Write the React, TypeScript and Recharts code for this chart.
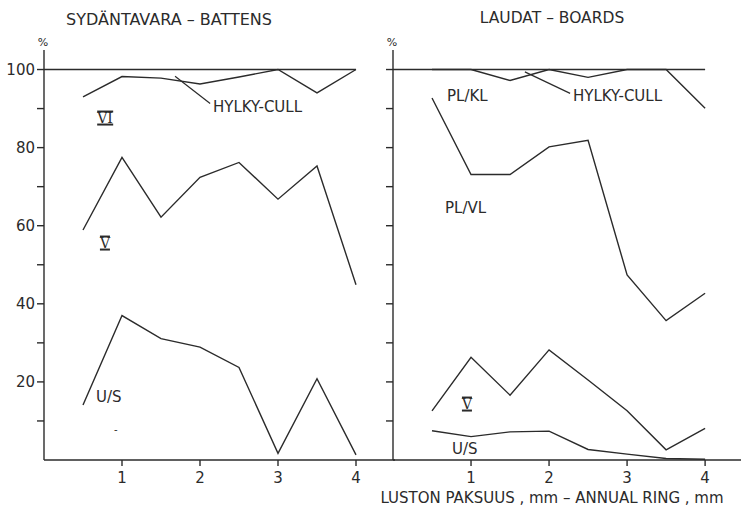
import React from 'react';
import { LineChart, Line, XAxis, YAxis, ReferenceLine } from 'recharts';

// ring thickness classes (mm)
const rings = [0.5, 1, 1.5, 2, 2.5, 3, 3.5, 4];

// Sydäntavara – battens (%)
const battensVI = [93, 98.2, 97.8, 96.3, 98.1, 100, 94, 100];
const battensV = [58.9, 77.5, 62.2, 72.4, 76.2, 66.8, 75.3, 44.9];
const battensUS = [14.1, 37.0, 31.1, 28.9, 23.7, 1.7, 20.8, 1.3];

// Laudat – boards (%)
const boardsCull = [100, 100, 97.2, 100, 98.0, 100, 100, 90.1];
const boardsPLVL = [92.7, 73.1, 73.1, 80.2, 81.9, 47.4, 35.7, 42.7];
const boardsV = [12.6, 26.3, 16.6, 28.2, 20.5, 12.6, 2.6, 8.1];
const boardsUS = [7.5, 6.0, 7.2, 7.4, 2.7, 1.5, 0.4, 0.2];

const yTicks = [10, 20, 30, 40, 50, 60, 70, 80, 90, 100];
const xTicks = [1, 2, 3, 4];

const battens = rings.map((x, i) => ({ x, vi: battensVI[i], v: battensV[i], us: battensUS[i] }));
const boards = rings.map((x, i) => ({ x, cull: boardsCull[i], plvl: boardsPLVL[i], v: boardsV[i], us: boardsUS[i] }));

const INK = '#2b2b2b';
const FONT = '"DejaVu Sans", sans-serif';

const YTickLabel = ({ x, y, payload }: any) =>
  payload.value % 20 === 0 ? (
    <text x={x} y={y} dy={5} textAnchor="end" fontSize={15} fill={INK} fontFamily={FONT}>
      {payload.value}
    </text>
  ) : (
    <g />
  );

const NoLabel = () => <g />;

const Txt = ({ x, y, children, size = 15, anchor = 'left' }: any) => (
  <div
    style={{
      position: 'absolute',
      left: x,
      top: y,
      transform: `translate(${anchor === 'center' ? '-50%' : '0'}, -50%)`,
      fontFamily: FONT,
      fontSize: size,
      color: INK,
      whiteSpace: 'nowrap',
      lineHeight: 1,
    }}
  >
    {children}
  </div>
);

// roman numeral grade marks with bars above and below
const Roman = ({ x, y, children }: any) => (
  <div
    style={{
      position: 'absolute',
      left: x,
      top: y,
      transform: 'translate(-50%, -50%)',
      fontFamily: '"DejaVu Serif", serif',
      fontSize: 14,
      color: INK,
      lineHeight: 0.78,
      borderTop: `2px solid ${INK}`,
      borderBottom: `2px solid ${INK}`,
      padding: '0 0',
    }}
  >
    {children}
  </div>
);

const lineProps = { type: 'linear' as const, stroke: INK, strokeWidth: 1.4, dot: false, isAnimationActive: false };
const axisLine = { stroke: INK, strokeWidth: 1.4 };

export default function App() {
  return (
    <div style={{ position: 'absolute', left: 0, top: 0, width: 741, height: 509, background: '#fff', overflow: 'hidden' }}>
      {/* left panel */}
      <div style={{ position: 'absolute', left: 0, top: 0 }}>
        <LineChart width={395} height={509} data={battens} margin={{ top: 50, right: 0, bottom: 19, left: 0 }}>
          <XAxis
            dataKey="x"
            type="number"
            domain={[0, 4.5]}
            ticks={xTicks}
            axisLine={axisLine}
            tickLine={axisLine}
            tickSize={6}
            tickMargin={6}
            height={30}
            tick={{ fontSize: 15, fill: INK, fontFamily: FONT }}
          />
          <YAxis
            type="number"
            domain={[0, 105]}
            ticks={yTicks}
            width={44}
            axisLine={axisLine}
            tickLine={axisLine}
            tickSize={7}
            tickMargin={2}
            tick={<YTickLabel />}
          />
          <ReferenceLine segment={[{ x: 0, y: 100 }, { x: 4, y: 100 }]} stroke={INK} strokeWidth={1.4} />
          <ReferenceLine segment={[{ x: 1.68, y: 98.3 }, { x: 2.13, y: 91.3 }]} stroke={INK} strokeWidth={1.2} />
          <Line dataKey="vi" {...lineProps} />
          <Line dataKey="v" {...lineProps} />
          <Line dataKey="us" {...lineProps} />
        </LineChart>
      </div>

      {/* right panel */}
      <div style={{ position: 'absolute', left: 353, top: 0 }}>
        <LineChart width={388} height={509} data={boards} margin={{ top: 50, right: 0, bottom: 19, left: 0 }}>
          <XAxis
            dataKey="x"
            type="number"
            domain={[0, 4.46]}
            ticks={xTicks}
            axisLine={axisLine}
            tickLine={axisLine}
            tickSize={6}
            tickMargin={6}
            height={30}
            tick={{ fontSize: 15, fill: INK, fontFamily: FONT }}
          />
          <YAxis
            type="number"
            domain={[0, 105]}
            ticks={yTicks}
            width={40}
            axisLine={axisLine}
            tickLine={axisLine}
            tickSize={7}
            tick={<NoLabel />}
          />
          <ReferenceLine segment={[{ x: 0, y: 100 }, { x: 4, y: 100 }]} stroke={INK} strokeWidth={1.4} />
          <ReferenceLine segment={[{ x: 1.69, y: 99.4 }, { x: 2.27, y: 93.9 }]} stroke={INK} strokeWidth={1.2} />
          <Line dataKey="cull" {...lineProps} />
          <Line dataKey="plvl" {...lineProps} />
          <Line dataKey="v" {...lineProps} />
          <Line dataKey="us" {...lineProps} />
        </LineChart>
      </div>

      {/* titles and annotations */}
      <Txt x={169} y={20} size={16} anchor="center">SYDÄNTAVARA – BATTENS</Txt>
      <Txt x={552} y={19} size={15.5} anchor="center">LAUDAT – BOARDS</Txt>
      <Txt x={43} y={42} size={11} anchor="center">%</Txt>
      <Txt x={392} y={42} size={11} anchor="center">%</Txt>

      <Txt x={213} y={107}>HYLKY-CULL</Txt>
      <Roman x={105} y={118}>VI</Roman>
      <Roman x={105} y={243}>V</Roman>
      <Txt x={96} y={397}>U/S</Txt>
      <Txt x={114} y={430} size={10}>-</Txt>

      <Txt x={447} y={96}>PL/KL</Txt>
      <Txt x={573} y={96}>HYLKY-CULL</Txt>
      <Txt x={445} y={208}>PL/VL</Txt>
      <Roman x={467} y={404}>V</Roman>
      <Txt x={452} y={449}>U/S</Txt>

      <Txt x={552} y={498} anchor="center">LUSTON PAKSUUS , mm – ANNUAL RING , mm</Txt>
    </div>
  );
}
